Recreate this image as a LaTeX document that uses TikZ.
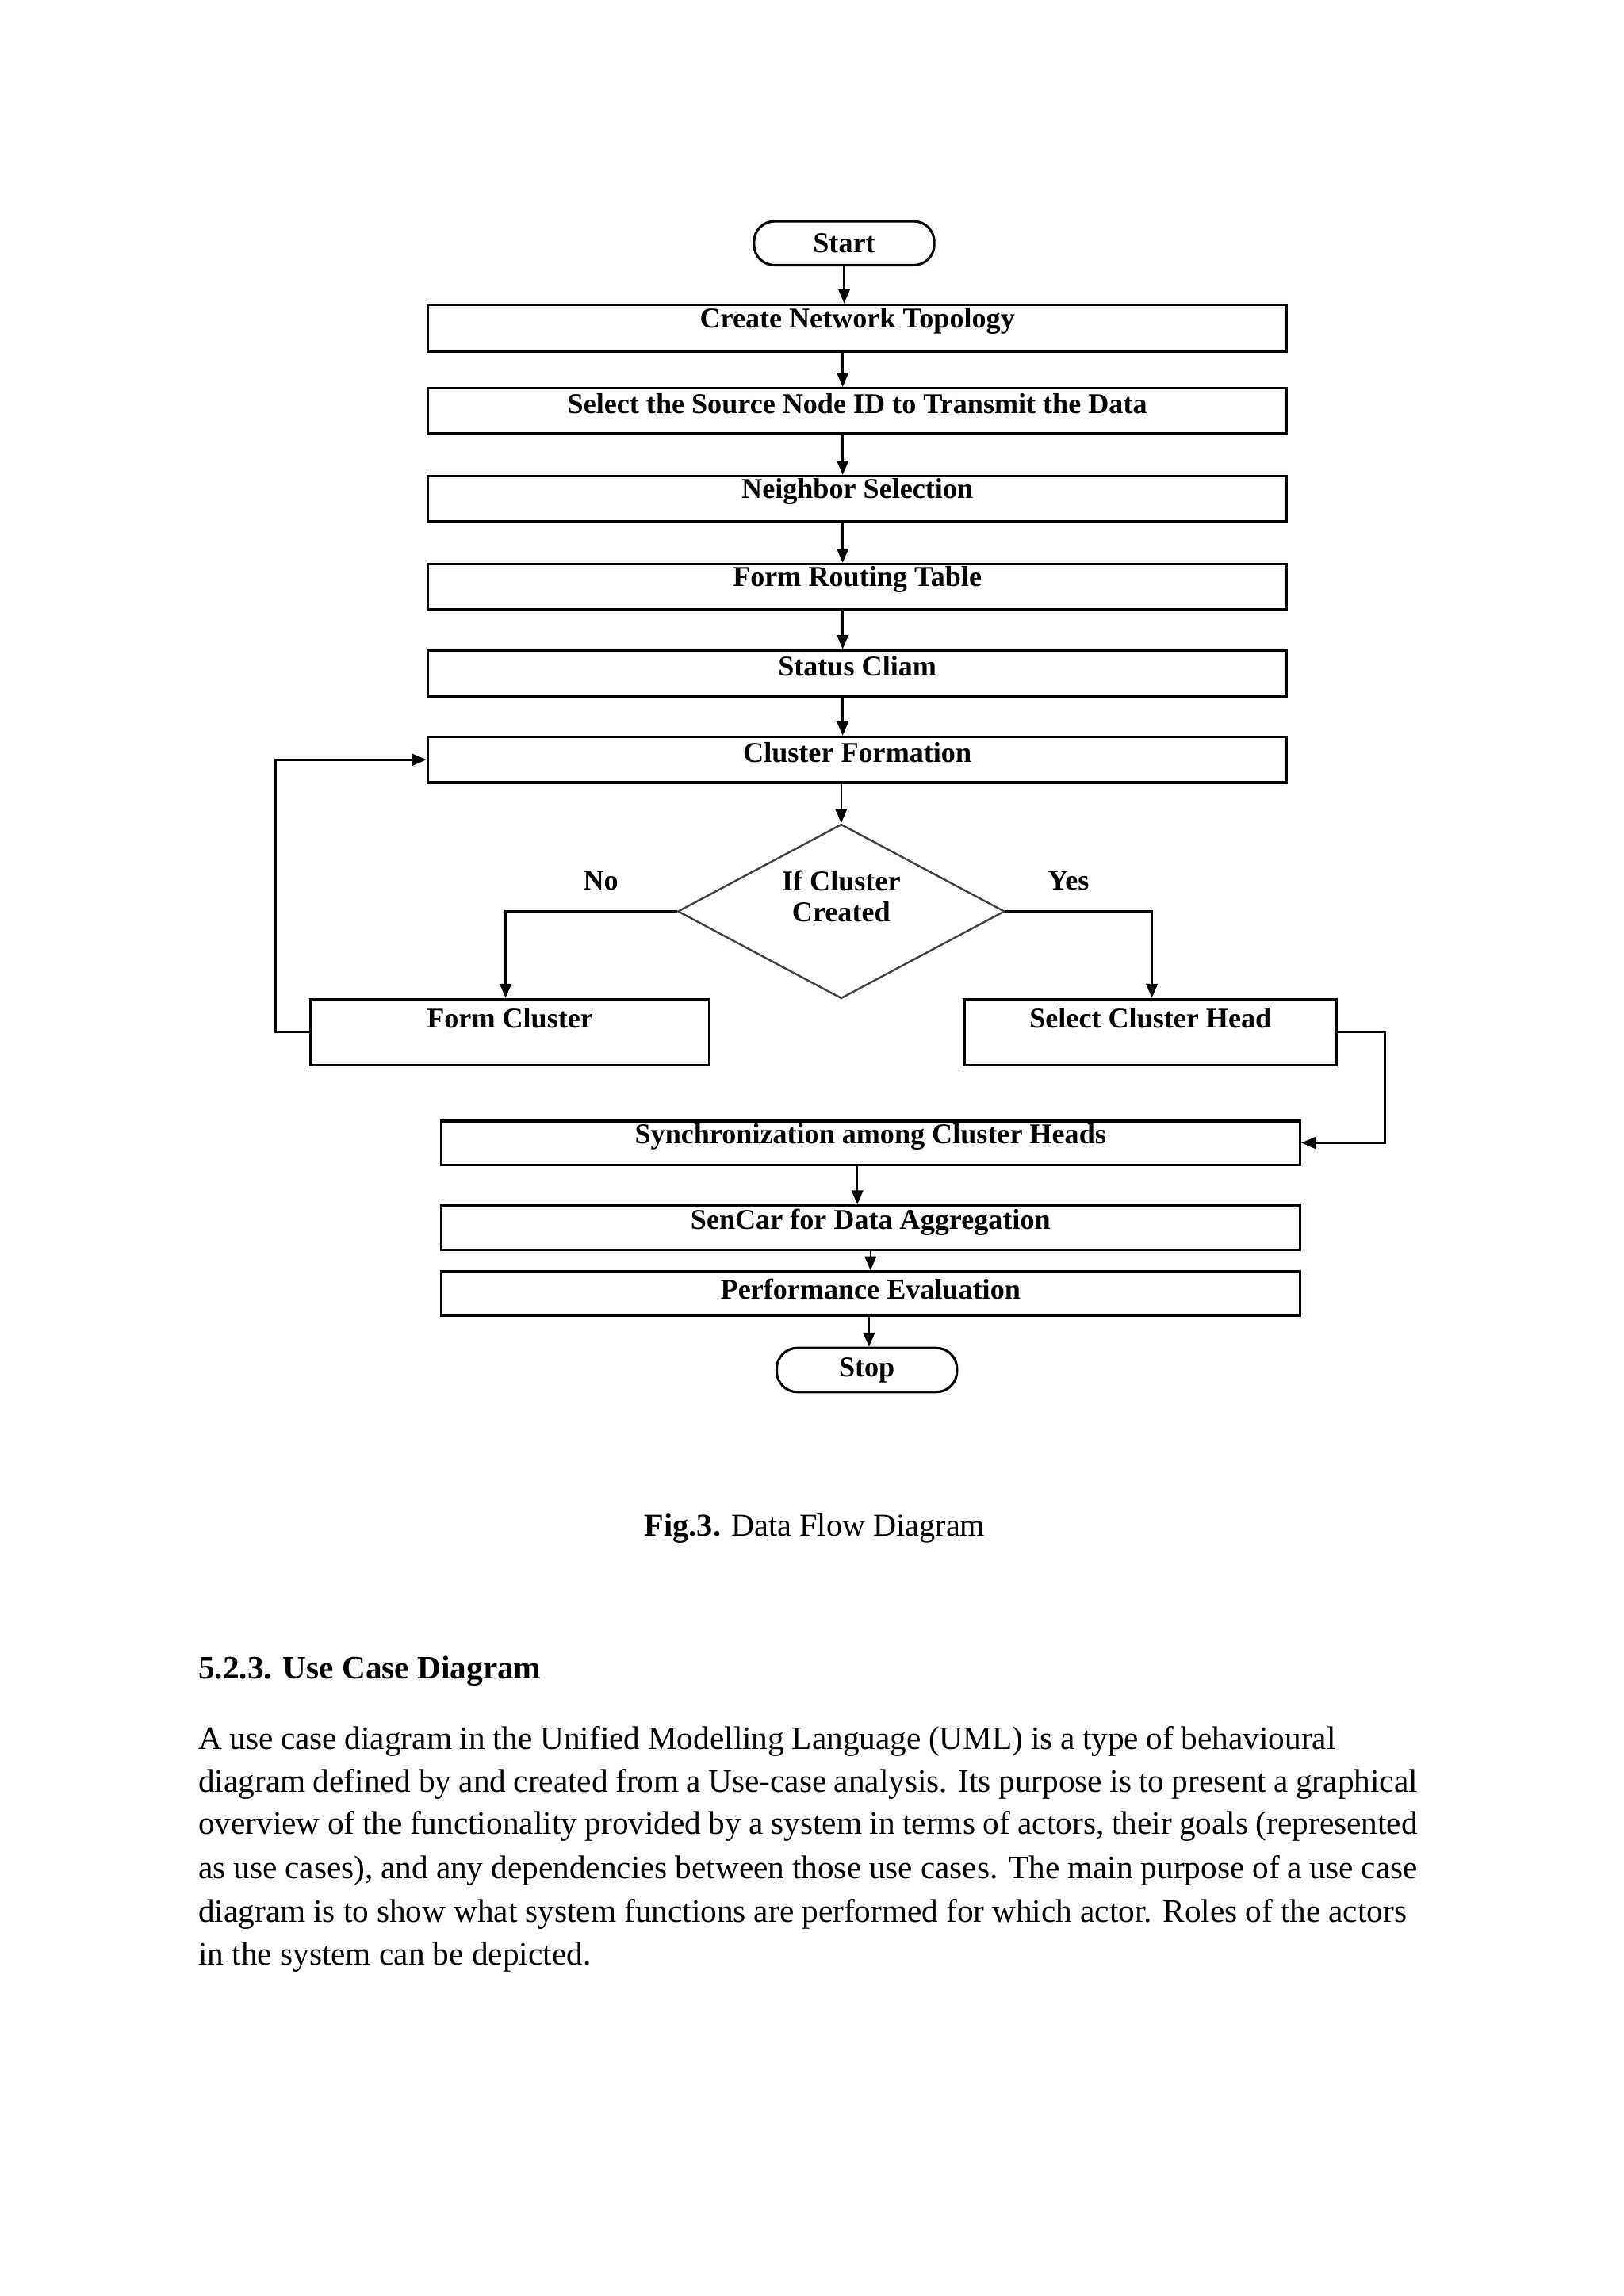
\documentclass[tikz,border=0pt]{standalone}
\usepackage{fontspec}
\setmainfont{Liberation Serif}
\usetikzlibrary{arrows.meta,shapes.geometric}
\newdimen\uu \uu=0.5373pt
\begin{document}
\begin{tikzpicture}[x=0.5373pt,y=-0.5373pt,
  wh/.style 2 args={minimum width=#1\uu, minimum height=#2\uu},
  box/.style={draw, line width=1pt, rectangle, inner sep=0pt},
  term/.style={draw, line width=0.9pt, rectangle, rounded corners=14\uu, inner sep=0pt, font=\fontsize{10.5}{12}\selectfont\bfseries},
  ftxt/.style={font=\fontsize{10.5}{11.3}\selectfont\bfseries, inner sep=0pt},
  arr/.style={line width=0.75pt, -{Triangle[length=5.2pt,width=4.2pt]}},
  body/.style={font=\fontsize{12}{14}\selectfont, anchor=base west, inner sep=0pt},
]
\fill[white] (0,0) rectangle (1108,1567);
\useasboundingbox (0,0) rectangle (1108,1567);

\coordinate (ax) at (575,0);

\node[term, wh={123}{30}] (start) at (576,166) {Start};
\node[box, wh={586}{32}, label={[ftxt,yshift=2.7pt]center:Create Network Topology}] (n1) at (585,224) {};
\node[box, wh={586}{31}, label={[ftxt,yshift=2.7pt]center:Select the Source Node ID to Transmit the Data}] (n2) at (585,280.5) {};
\node[box, wh={586}{31}, label={[ftxt,yshift=2.7pt]center:Neighbor Selection}] (n3) at (585,340.5) {};
\node[box, wh={586}{31}, label={[ftxt,yshift=2.7pt]center:Form Routing Table}] (n4) at (585,400.5) {};
\node[box, wh={586}{31}, label={[ftxt,yshift=2.7pt]center:Status Cliam}] (n5) at (585,459.5) {};
\node[box, wh={586}{31}, label={[ftxt,yshift=2.7pt]center:Cluster Formation}] (n6) at (585,518.5) {};

\node[diamond, draw=black!75, line width=0.7pt, aspect=1.87, inner sep=0pt, wh={223}{119},
  label={[ftxt,align=center,yshift=5.6pt]center:If Cluster\\Created}] (d) at (574,622) {};
\node[ftxt] (no) at (410,601) {No};
\node[ftxt] (yes) at (729,601) {Yes};

\node[box, wh={272}{45}, label={[ftxt,yshift=5.1pt]center:Form Cluster}] (fc) at (348,704.5) {};
\node[box, wh={254}{45}, label={[ftxt,yshift=5.1pt]center:Select Cluster Head}] (sch) at (785,704.5) {};

\node[box, wh={586}{30}, label={[ftxt,yshift=2.1pt]center:Synchronization among Cluster Heads}] (sync) at (594,780) {};
\node[box, wh={586}{30}, label={[ftxt,yshift=2.1pt]center:SenCar for Data Aggregation}] (sen) at (594,838) {};
\node[box, wh={586}{30}, label={[ftxt,yshift=1.6pt]center:Performance Evaluation}] (perf) at (594,883) {};
\node[term, wh={123}{30}] (stop) at (591.5,935) {Stop};

\draw[arr] (start) -- (start |- n1.north);
\draw[arr] (n1.south -| ax) -- (n2.north -| ax);
\draw[arr] (n2.south -| ax) -- (n3.north -| ax);
\draw[arr] (n3.south -| ax) -- (n4.north -| ax);
\draw[arr] (n4.south -| ax) -- (n5.north -| ax);
\draw[arr] (n5.south -| ax) -- (n6.north -| ax);
\draw[arr] (n6.south -| d.north) -- (d.north);
\draw[arr] (d.west) -| ([xshift=-3\uu]fc.north);
\draw[arr] (d.east) -| ([xshift=1\uu]sch.north);
\draw[arr] (fc.west) -- ++(-23,0) |- (n6.west);
\draw[arr] (sch.east) -- ++(32,0) |- (sync.east);
\draw[arr] ([xshift=-9\uu]sync.south) -- ([xshift=-9\uu]sen.north);
\draw[arr] (sen.south) -- (perf.north);
\draw[arr] ([xshift=-1\uu]perf.south) -- ([xshift=-1\uu]perf.south |- stop.north);

\node[font=\fontsize{11.7}{14}\selectfont, inner sep=0pt] (cap) at (556,1043) {\textbf{Fig.3.} Data Flow Diagram};
\node[body] (h) at (135,1146) {\textbf{5.2.3. Use Case Diagram}};
\node[body] (l1) at (135,1194) {\makebox[417pt][s]{A use case diagram in the Unified Modelling Language (UML) is a type of behavioural}};
\node[body] (l2) at (135,1223) {\makebox[447pt][s]{diagram defined by and created from a Use-case analysis. Its purpose is to present a graphical}};
\node[body] (l3) at (135,1252) {\makebox[447pt][s]{overview of the functionality provided by a system in terms of actors, their goals (represented}};
\node[body] (l4) at (135,1282) {\makebox[447pt][s]{as use cases), and any dependencies between those use cases. The main purpose of a use case}};
\node[body] (l5) at (135,1312) {\makebox[443pt][s]{diagram is to show what system functions are performed for which actor. Roles of the actors}};
\node[body] (l6) at (135,1341) {in the system can be depicted.};
\end{tikzpicture}
\end{document}
